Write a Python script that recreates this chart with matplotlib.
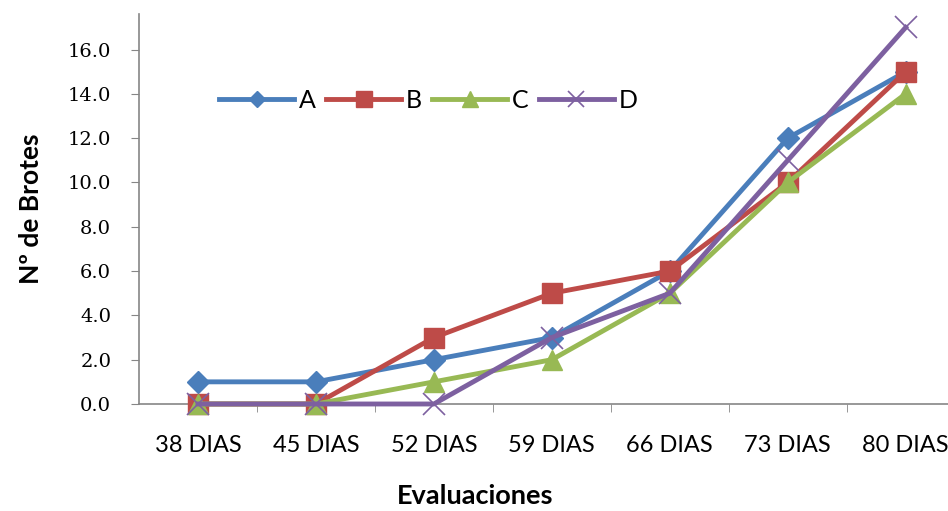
import numpy as np
import matplotlib.pyplot as plt

# data
dias = ["38 DIAS", "45 DIAS", "52 DIAS", "59 DIAS", "66 DIAS", "73 DIAS", "80 DIAS"]
serie_a = [1, 1, 2, 3, 6, 12, 15]
serie_b = [0, 0, 3, 5, 6, 10, 15]
serie_c = [0, 0, 1, 2, 5, 10, 14]
serie_d = [0, 0, 0, 3, 5, 11, 17]
y_ticks = [0, 2, 4, 6, 8, 10, 12, 14, 16]

fig = plt.figure(figsize=(9.48, 5.11), dpi=100)
ax = fig.add_axes([0.1466, 0.2094, 0.871, 0.763])

x = np.arange(len(dias))
ax.plot(x, serie_a, color="#4A7EBB", lw=3.5, marker="D", ms=11, label="A", clip_on=False, zorder=3)
ax.plot(x, serie_b, color="#BE4B48", lw=3.5, marker="s", ms=15, label="B", clip_on=False, zorder=3)
ax.plot(x, serie_c, color="#98B954", lw=3.5, marker="^", ms=15, label="C", clip_on=False, zorder=3)
ax.plot(x, serie_d, color="#7D60A0", lw=3.5, marker="x", ms=16, mew=1.2, label="D", clip_on=False, zorder=3)

ax.set_xlim(-0.5, len(dias) - 0.5)
ax.set_ylim(0, 17.6)

ax.set_yticks(y_ticks)
ax.set_yticklabels([f"{v:.1f}" for v in y_ticks], fontfamily="DejaVu Serif", fontsize=14)
ax.set_xticks(x)
ax.set_xticklabels(dias, fontfamily="Lato", fontsize=17)
ax.set_xticks(np.arange(len(dias) - 1) + 0.5, minor=True)
ax.tick_params(axis="x", which="major", length=0, pad=22)
ax.tick_params(axis="x", which="minor", length=6, direction="out", color="#868686")
ax.tick_params(axis="y", length=6, direction="out", color="#868686", pad=14)

for side in ["top", "right"]:
    ax.spines[side].set_visible(False)
for side in ["left", "bottom"]:
    ax.spines[side].set_color("#868686")
    ax.spines[side].set_linewidth(1.2)

ax.set_xlabel("Evaluaciones", fontfamily="Lato", fontweight="bold", fontsize=19.5)
ax.xaxis.set_label_coords(0.407, -0.205)
ax.set_ylabel("Nº de Brotes", fontfamily="Lato", fontweight="bold", fontsize=19, labelpad=18)

ax.legend(loc="upper left", bbox_to_anchor=(0.07, 0.865), ncol=4, frameon=False,
          handlelength=3.0, columnspacing=0.4, handletextpad=0.2, markerscale=0.75,
          prop={"family": "Lato", "size": 18})

fig.savefig("out.png", dpi=100)
